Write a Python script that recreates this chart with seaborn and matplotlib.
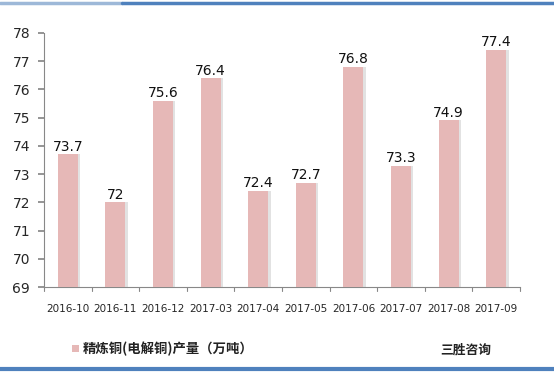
import matplotlib
matplotlib.use("Agg")
import matplotlib.pyplot as plt
import seaborn as sns
import pandas as pd
from matplotlib.lines import Line2D
from matplotlib.patches import Rectangle

categories = ["2016-10", "2016-11", "2016-12", "2017-03", "2017-04",
              "2017-05", "2017-06", "2017-07", "2017-08", "2017-09"]
values = [73.7, 72, 75.6, 76.4, 72.4, 72.7, 76.8, 73.3, 74.9, 77.4]
value_labels = ["73.7", "72", "75.6", "76.4", "72.4", "72.7", "76.8", "73.3", "74.9", "77.4"]
y_ticks = [69, 70, 71, 72, 73, 74, 75, 76, 77, 78]
legend_label = "精炼铜(电解铜)产量（万吨）"
brand = "三胜咨询"

sns.set_theme(style="white")
plt.rcParams['font.family'] = ['Noto Sans CJK SC', 'DejaVu Sans']

df = pd.DataFrame({"month": categories, "value": values})

fig = plt.figure(figsize=(5.54, 3.77), dpi=100)
ax = fig.add_axes([0.0794, 0.2387, 0.8592, 0.6738])

bar_color = "#E6B8B7"
ymin = y_ticks[0]

sns.barplot(data=df, x="month", y="value", color=bar_color, width=0.42,
            ax=ax, saturation=1, edgecolor="none", zorder=3)

# subtle shadow on the right of bars
for p in list(ax.patches):
    ax.add_patch(Rectangle((p.get_x() + p.get_width(), ymin), 0.05,
                           p.get_height() - ymin,
                           facecolor="#E2E2E2", edgecolor="none", zorder=2))

ax.set_ylim(69, 78)
ax.set_yticks(y_ticks)
ax.set_xlim(-0.5, len(categories) - 0.5)
ax.set_xlabel("")
ax.set_ylabel("")
ax.set_xticks(range(len(categories)))
ax.set_xticklabels(categories, fontsize=7.5, family="DejaVu Sans")
ax.tick_params(axis="x", length=0, pad=12)
ax.tick_params(axis="y", labelsize=10, length=4, direction="out", color="#888888",
               left=True, pad=6)
for lab in ax.get_yticklabels():
    lab.set_family("DejaVu Sans")

for s in ["top", "right"]:
    ax.spines[s].set_visible(False)
for s in ["left", "bottom"]:
    ax.spines[s].set_color("#888888")
    ax.spines[s].set_linewidth(0.8)

# x ticks between categories
for i in range(len(categories) + 1):
    ax.plot([i - 0.5, i - 0.5], [69, 68.85], color="#888888", lw=0.8,
            clip_on=False, zorder=4)

for i, (v, t) in enumerate(zip(values, value_labels)):
    ax.text(i, v + 0.02, t, ha="center", va="bottom", fontsize=10,
            family="DejaVu Sans", color="#111111", zorder=5)

# legend
fig.patches.append(Rectangle((72 / 554, 1 - 352 / 377), 7 / 554, 7 / 377,
                             transform=fig.transFigure, facecolor=bar_color,
                             edgecolor="none"))
fig.text(83 / 554, 1 - 349 / 377, legend_label, fontsize=9.6, fontweight="bold",
         ha="left", va="center", color="#222222")
fig.text(440 / 554, 1 - 350 / 377, brand, fontsize=9.2, fontweight="bold",
         ha="left", va="center", color="#222222")

# frame lines
fig.lines.append(Line2D([0, 0.22], [1 - 3 / 377] * 2, transform=fig.transFigure,
                        color="#9DB8D8", lw=2.5))
fig.lines.append(Line2D([0.22, 1], [1 - 3 / 377] * 2, transform=fig.transFigure,
                        color="#4F81BD", lw=2.5))
fig.lines.append(Line2D([0, 1], [1 - 369 / 377] * 2, transform=fig.transFigure,
                        color="#4F81BD", lw=3))

fig.savefig("out.png", dpi=100)
